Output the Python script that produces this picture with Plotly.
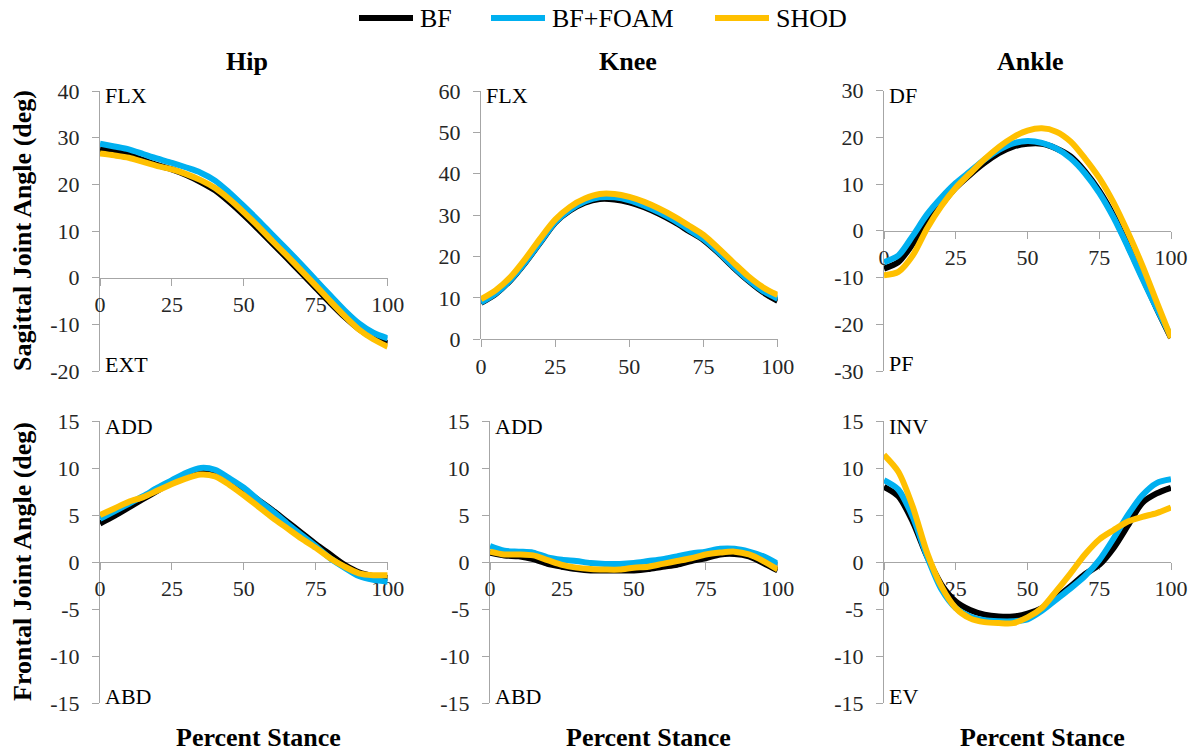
import plotly.graph_objects as go

W, H = 1199, 756

# ---------------- data ----------------
pct = list(range(0, 101, 5))
series_names = ["BF", "BF+FOAM", "SHOD"]

hip_sag_bf = [27.5, 27.0, 26.3, 25.2, 24.1, 23.2, 22.0, 20.5, 18.7, 16.2, 13.4, 10.4, 7.3, 4.2, 1.0, -2.2, -5.4, -8.4, -11.0, -12.9, -14.0]
hip_sag_foam = [28.7, 28.1, 27.5, 26.5, 25.5, 24.6, 23.6, 22.5, 20.8, 18.2, 15.3, 12.3, 9.1, 6.0, 2.8, -0.5, -3.8, -7.0, -9.8, -11.8, -13.0]
hip_sag_shod = [26.6, 26.2, 25.7, 24.8, 23.9, 23.2, 22.2, 20.9, 19.2, 16.8, 14.0, 11.0, 7.8, 4.7, 1.5, -1.7, -5.0, -8.2, -11.1, -13.2, -14.8]

knee_sag_bf = [8.8, 11.0, 14.3, 18.6, 23.4, 28.2, 31.1, 33.0, 33.9, 33.8, 33.1, 31.9, 30.3, 28.4, 26.2, 24.0, 20.9, 17.4, 14.2, 11.4, 9.3]
knee_sag_foam = [8.9, 11.1, 14.4, 18.7, 23.5, 28.3, 31.3, 33.3, 34.3, 34.3, 33.6, 32.3, 30.7, 28.8, 26.5, 24.2, 21.1, 17.6, 14.4, 11.7, 9.8]
knee_sag_shod = [9.7, 11.9, 15.1, 19.5, 24.4, 28.9, 32.0, 34.0, 35.1, 35.1, 34.4, 33.2, 31.6, 29.7, 27.5, 25.2, 22.0, 18.6, 15.3, 12.6, 10.7]

ankle_sag_bf = [-8.1, -6.7, -2.8, 1.8, 5.6, 9.2, 12.0, 14.5, 16.6, 18.0, 18.6, 18.6, 17.6, 15.9, 12.7, 8.5, 3.2, -3.2, -9.9, -16.6, -22.9]
ankle_sag_foam = [-6.7, -5.3, -1.1, 3.5, 7.1, 10.2, 12.7, 15.2, 17.3, 18.7, 19.2, 18.8, 17.6, 15.5, 12.3, 8.1, 2.8, -3.5, -10.2, -16.6, -22.6]
ankle_sag_shod = [-9.5, -8.8, -5.3, 0.5, 5.3, 9.2, 12.3, 15.3, 17.9, 20.0, 21.4, 21.9, 21.2, 19.1, 15.5, 11.3, 6.0, -0.4, -7.4, -15.2, -22.9]

hip_fro_bf = [4.1, 4.9, 5.8, 6.7, 7.6, 8.5, 9.2, 9.6, 9.6, 8.7, 7.7, 6.6, 5.5, 4.3, 3.1, 1.9, 0.8, -0.3, -1.1, -1.5, -1.7]
hip_fro_foam = [4.6, 5.4, 6.2, 7.0, 7.9, 8.7, 9.5, 10.0, 9.8, 8.9, 7.9, 6.6, 5.4, 4.1, 2.9, 1.7, 0.4, -0.6, -1.5, -1.9, -2.1]
hip_fro_shod = [5.0, 5.7, 6.4, 6.9, 7.6, 8.3, 8.9, 9.3, 9.1, 8.2, 7.1, 5.9, 4.7, 3.6, 2.5, 1.5, 0.4, -0.5, -1.2, -1.4, -1.4]

knee_fro_bf = [1.0, 0.7, 0.6, 0.3, -0.2, -0.5, -0.75, -0.9, -0.9, -0.9, -0.9, -0.75, -0.5, -0.3, 0.1, 0.4, 0.8, 0.85, 0.6, -0.1, -0.9]
knee_fro_foam = [1.7, 1.2, 1.1, 1.0, 0.5, 0.25, 0.1, -0.1, -0.2, -0.2, -0.1, 0.1, 0.3, 0.6, 0.9, 1.1, 1.4, 1.4, 1.1, 0.6, -0.2]
knee_fro_shod = [1.1, 0.8, 0.8, 0.7, 0.2, -0.3, -0.6, -0.75, -0.8, -0.8, -0.6, -0.5, -0.2, 0.1, 0.4, 0.8, 1.0, 1.1, 0.8, 0.1, -0.8]

ankle_fro_bf = [8.0, 7.0, 4.3, 0.6, -2.4, -4.2, -5.1, -5.6, -5.8, -5.8, -5.5, -4.9, -3.8, -2.6, -1.3, -0.3, 1.5, 3.9, 6.3, 7.3, 7.9]
ankle_fro_foam = [8.7, 7.7, 4.8, 0.6, -2.9, -4.9, -5.8, -6.2, -6.3, -6.3, -6.1, -5.2, -4.0, -2.8, -1.5, 0.2, 2.5, 5.0, 7.1, 8.4, 8.8]
ankle_fro_shod = [11.4, 9.6, 5.9, 1.0, -2.6, -4.9, -6.0, -6.4, -6.5, -6.5, -5.9, -4.9, -3.1, -1.2, 0.8, 2.4, 3.4, 4.3, 4.8, 5.2, 5.8]

x_ticks = [0, 25, 50, 75, 100]
y_ticks_hip_sag = [-20, -10, 0, 10, 20, 30, 40]
y_ticks_knee_sag = [0, 10, 20, 30, 40, 50, 60]
y_ticks_ankle_sag = [-30, -20, -10, 0, 10, 20, 30]
y_ticks_frontal = [-15, -10, -5, 0, 5, 10, 15]
col_titles = ["Hip", "Knee", "Ankle"]
row_titles = ["Sagittal Joint Angle (deg)", "Frontal Joint Angle (deg)"]
x_title = "Percent Stance"

# ---------------- styling / layout ----------------
panels = [
    dict(data=[hip_sag_bf, hip_sag_foam, hip_sag_shod], yt=y_ticks_hip_sag, top="FLX", bot="EXT", box=(100, 387.7, 91, 371)),
    dict(data=[knee_sag_bf, knee_sag_foam, knee_sag_shod], yt=y_ticks_knee_sag, top="FLX", bot=None, box=(481, 777.7, 91, 339.3)),
    dict(data=[ankle_sag_bf, ankle_sag_foam, ankle_sag_shod], yt=y_ticks_ankle_sag, top="DF", bot="PF", box=(884, 1171, 90.5, 371)),
    dict(data=[hip_fro_bf, hip_fro_foam, hip_fro_shod], yt=y_ticks_frontal, top="ADD", bot="ABD", box=(100, 387.7, 421, 703)),
    dict(data=[knee_fro_bf, knee_fro_foam, knee_fro_shod], yt=y_ticks_frontal, top="ADD", bot="ABD", box=(490, 777.7, 421, 703)),
    dict(data=[ankle_fro_bf, ankle_fro_foam, ankle_fro_shod], yt=y_ticks_frontal, top="INV", bot="EV", box=(884, 1171, 421, 703)),
]
title_x = [247, 628, 1030]
xtitle_x = [258, 648, 1042]

colors = ["#000000", "#00B0F0", "#FFC000"]
legend_keys = [(359, 413, 418), (491, 545, 550), (715, 769, 774)]
LEGEND_Y = 18

FONT = "Liberation Serif"
AXIS_COLOR = "#a6a6a6"
TICK_FONT = dict(family=FONT, size=22, color="#262626")
BOLD_SIZE = 26

fig = go.Figure()
layout = dict(
    width=W, height=H,
    margin=dict(l=0, r=0, t=0, b=0, autoexpand=False),
    paper_bgcolor="white", plot_bgcolor="rgba(0,0,0,0)",
    showlegend=False,
    font=dict(family=FONT),
)
annotations = []
shapes = []

for i, p in enumerate(panels):
    n = i + 1
    xa = "x" if n == 1 else f"x{n}"
    ya = "y" if n == 1 else f"y{n}"
    l, r, t, b = p["box"]
    xd = [l / W, r / W]
    yd = [1 - b / H, 1 - t / H]
    y0, y1 = p["yt"][0], p["yt"][-1]
    pos = yd[0] + (0 - y0) / (y1 - y0) * (yd[1] - yd[0])
    layout["xaxis" if n == 1 else f"xaxis{n}"] = dict(
        domain=xd, range=[0, 100], anchor="free", position=pos,
        tickvals=x_ticks, ticktext=[str(v) for v in x_ticks],
        showline=True, linecolor=AXIS_COLOR, linewidth=1,
        ticks="outside", ticklen=7, tickcolor=AXIS_COLOR, showgrid=False, zeroline=False,
        tickfont=TICK_FONT, layer="below traces", fixedrange=True,
    )
    layout["yaxis" if n == 1 else f"yaxis{n}"] = dict(
        domain=yd, range=[y0, y1], anchor=xa,
        tickvals=p["yt"], ticktext=[str(v) for v in p["yt"]],
        showline=True, linecolor=AXIS_COLOR, linewidth=1,
        ticks="outside", ticklen=7, tickcolor=AXIS_COLOR, showgrid=False, zeroline=False,
        tickfont=TICK_FONT, layer="below traces", fixedrange=True, ticklabelstandoff=8,
    )
    for vals, name, c in zip(p["data"], series_names, colors):
        fig.add_trace(go.Scatter(
            x=pct, y=vals, name=name, mode="lines",
            line=dict(color=c, width=6, shape="spline", smoothing=0.8),
            xaxis=xa, yaxis=ya, showlegend=False, hoverinfo="skip",
        ))
    annotations.append(dict(text=p["top"], xref=f"{xa} domain", yref=f"{ya} domain",
                            x=0, y=1, xanchor="left", yanchor="middle", yshift=-5, xshift=3,
                            showarrow=False, font=dict(family=FONT, size=22, color="#000")))
    if p["bot"]:
        annotations.append(dict(text=p["bot"], xref=f"{xa} domain", yref=f"{ya} domain",
                                x=0, y=0, xanchor="left", yanchor="middle", yshift=7, xshift=3,
                                showarrow=False, font=dict(family=FONT, size=22, color="#000")))

for j, ttl in enumerate(col_titles):
    annotations.append(dict(text=f"<b>{ttl}</b>", xref="paper", yref="paper",
                            x=title_x[j] / W, y=1 - 61 / H, xanchor="center", yanchor="middle",
                            showarrow=False, font=dict(family=FONT, size=BOLD_SIZE, color="#000")))
    annotations.append(dict(text=f"<b>{x_title}</b>", xref="paper", yref="paper",
                            x=xtitle_x[j] / W, y=1 - 737 / H, xanchor="center", yanchor="middle",
                            showarrow=False, font=dict(family=FONT, size=BOLD_SIZE, color="#000")))

for rr, ttl in enumerate(row_titles):
    l, r, t, b = panels[rr * 3]["box"]
    annotations.append(dict(text=f"<b>{ttl}</b>", xref="paper", yref="paper",
                            x=22 / W, y=1 - (t + b) / 2 / H, xanchor="center", yanchor="middle",
                            textangle=-90, showarrow=False, font=dict(family=FONT, size=BOLD_SIZE, color="#000")))

for (x0, x1, xt), name, c in zip(legend_keys, series_names, colors):
    shapes.append(dict(type="line", xref="paper", yref="paper",
                       x0=x0 / W, x1=x1 / W, y0=1 - LEGEND_Y / H, y1=1 - LEGEND_Y / H,
                       line=dict(color=c, width=6)))
    annotations.append(dict(text=name, xref="paper", yref="paper", x=xt / W, y=1 - LEGEND_Y / H,
                            xanchor="left", yanchor="middle", showarrow=False,
                            font=dict(family=FONT, size=26, color="#000")))

layout["annotations"] = annotations
layout["shapes"] = shapes
fig.update_layout(**layout)
fig.write_html("out.html", config={"displayModeBar": False},
               post_script="document.body.style.margin='0';document.body.style.padding='0';document.body.style.overflow='hidden';")
